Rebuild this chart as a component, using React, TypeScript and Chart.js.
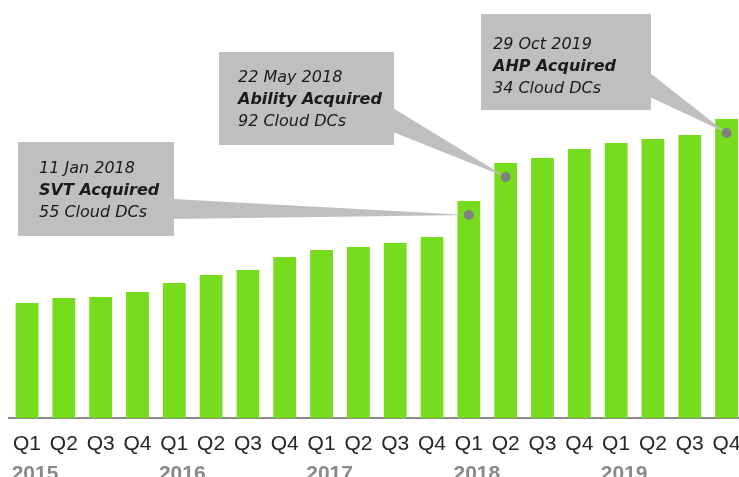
import { useEffect, useRef } from 'react';
import { Chart, registerables } from 'chart.js';

Chart.register(...registerables);

// ---- data ----
const quarterLabels = [
  'Q1', 'Q2', 'Q3', 'Q4',
  'Q1', 'Q2', 'Q3', 'Q4',
  'Q1', 'Q2', 'Q3', 'Q4',
  'Q1', 'Q2', 'Q3', 'Q4',
  'Q1', 'Q2', 'Q3', 'Q4',
];
const yearLabels = [
  '2015', '', '', '',
  '2016', '', '', '',
  '2017', '', '', '',
  '2018', '', '', '',
  '2019', '', '', '',
];
const cloudDcValues = [
  115, 120, 121, 126,
  135, 143, 148, 161,
  168, 171, 175, 181,
  217, 255, 260, 269,
  275, 279, 283, 299,
];

const eventIndex = [12, 13, 19];
const eventDates = ['11 Jan 2018', '22 May 2018', '29 Oct 2019'];
const eventTitles = ['SVT Acquired', 'Ability Acquired', 'AHP Acquired'];
const eventNotes = ['55 Cloud DCs', '92 Cloud DCs', '34 Cloud DCs'];

// ---- callout layout (styling, not data) ----
const calloutBoxes = [
  { left: 18, top: 142, right: 174, bottom: 236, textX: 21, base: [199, 219], lineTop: 31 },
  { left: 219, top: 52, right: 394, bottom: 145, textX: 19, base: [108, 132], lineTop: 30 },
  { left: 481, top: 14, right: 651, bottom: 110, textX: 12, base: [73, 97], lineTop: 35 },
];

const BAR_COLOR = '#78DC1E';
const BOX_COLOR = '#BFBFBF';

const calloutPlugin = {
  id: 'callouts',
  afterDatasetsDraw(chart: any) {
    const ctx = chart.ctx;
    const meta = chart.getDatasetMeta(0);
    ctx.save();
    eventIndex.forEach((idx, i) => {
      const bar = meta.data[idx];
      const box = calloutBoxes[i];
      const tipX = bar.x;
      const tipY = bar.y + 14;
      ctx.fillStyle = BOX_COLOR;
      // wedge
      ctx.beginPath();
      ctx.moveTo(box.right - 1, box.base[0]);
      ctx.lineTo(tipX, tipY);
      ctx.lineTo(box.right - 1, box.base[1]);
      ctx.closePath();
      ctx.fill();
      // box
      ctx.fillRect(box.left, box.top, box.right - box.left, box.bottom - box.top);
      // dot
      ctx.fillStyle = '#808080';
      ctx.beginPath();
      ctx.arc(tipX, tipY, 5, 0, Math.PI * 2);
      ctx.fill();
      // text
      ctx.fillStyle = '#1a1a1a';
      ctx.textAlign = 'left';
      ctx.textBaseline = 'alphabetic';
      const tx = box.left + box.textX;
      const ty = box.top + box.lineTop;
      ctx.font = 'italic 16px "DejaVu Sans"';
      ctx.fillText(eventDates[i], tx, ty);
      ctx.font = 'italic bold 16px "DejaVu Sans"';
      ctx.fillText(eventTitles[i], tx, ty + 22);
      ctx.font = 'italic 16px "DejaVu Sans"';
      ctx.fillText(eventNotes[i], tx, ty + 44);
    });
    ctx.restore();
  },
};

const zeroSidePadding = (scale: any, height: number) => {
  scale.height = height;
  scale.paddingLeft = 0;
  scale.paddingRight = 0;
};

export default function App() {
  const canvasRef = useRef<HTMLCanvasElement | null>(null);

  useEffect(() => {
    if (!canvasRef.current) return;
    const chart = new Chart(canvasRef.current, {
      type: 'bar',
      data: {
        labels: quarterLabels,
        datasets: [
          {
            data: cloudDcValues,
            backgroundColor: BAR_COLOR,
            borderWidth: 0,
            barPercentage: 0.62,
            categoryPercentage: 1,
          },
        ],
      },
      options: {
        responsive: false,
        animation: false,
        layout: { padding: { left: 8.6, right: 0, top: 0, bottom: 0 } },
        plugins: {
          legend: { display: false },
          tooltip: { enabled: false },
        },
        scales: {
          x: {
            type: 'category',
            position: 'bottom',
            weight: 0,
            offset: true,
            grid: { display: false, drawTicks: false },
            border: { display: true, color: '#8a8a8a', width: 2 },
            ticks: {
              autoSkip: false,
              maxRotation: 0,
              padding: 14,
              color: '#262626',
              font: { family: '"Liberation Sans", Arial, sans-serif', size: 21 },
            },
            afterFit: (scale: any) => zeroSidePadding(scale, 40),
          },
          x2: {
            type: 'category',
            position: 'bottom',
            weight: 1,
            labels: yearLabels,
            offset: true,
            grid: { display: false, drawTicks: false },
            border: { display: false },
            ticks: {
              autoSkip: false,
              maxRotation: 0,
              padding: 4,
              labelOffset: 8,
              color: '#8a8a8a',
              font: { family: '"Liberation Sans", Arial, sans-serif', size: 21, weight: 'bold' },
            },
            afterFit: (scale: any) => zeroSidePadding(scale, 30),
          },
          y: {
            display: false,
            min: 0,
            max: 418,
          },
        },
      },
      plugins: [calloutPlugin],
    });
    return () => chart.destroy();
  }, []);

  return (
    <div
      style={{
        position: 'fixed',
        left: 0,
        top: 0,
        width: 739,
        height: 477,
        overflow: 'hidden',
        background: '#ffffff',
      }}
    >
      <canvas ref={canvasRef} width={745} height={488} style={{ display: 'block' }} />
    </div>
  );
}
